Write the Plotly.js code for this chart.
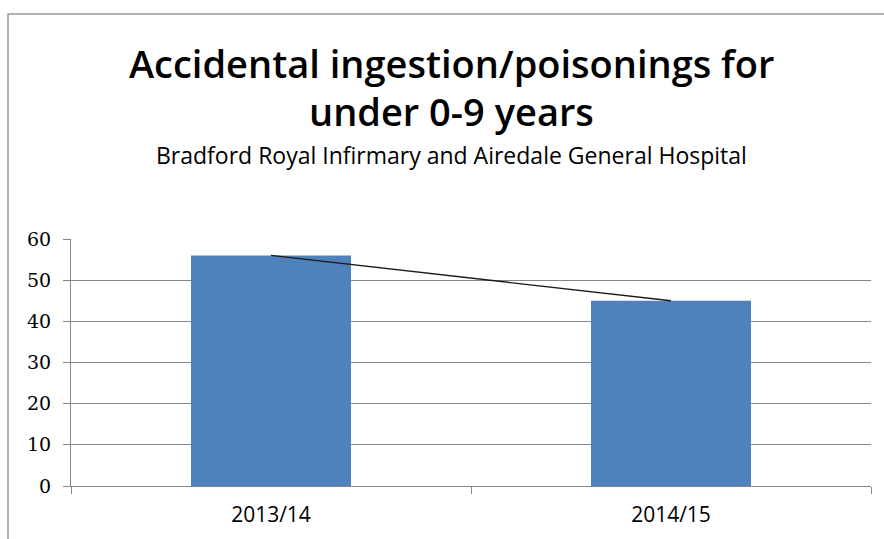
<!DOCTYPE html>
<html>
<head>
<meta charset="utf-8">
<script src="https://cdn.plot.ly/plotly-3.0.1.min.js"></script>
<style>
  html, body { margin: 0; padding: 0; background: #ffffff; }
  #chart { width: 884px; height: 539px; }
</style>
</head>
<body>
<div id="chart"></div>
<script>
const categories = ["2013/14", "2014/15"];
const cases = [56, 45];
const titleLine1 = "Accidental ingestion/poisonings for";
const titleLine2 = "under 0-9 years";
const subtitle = "Bradford Royal Infirmary and Airedale General Hospital";
const yTicks = [0, 10, 20, 30, 40, 50, 60];

const traces = [
  {
    type: "bar",
    x: categories,
    y: cases,
    width: 0.4,
    marker: { color: "#4F81BD" },
    hoverinfo: "x+y"
  },
  {
    type: "scatter",
    mode: "lines",
    x: categories,
    y: cases,
    line: { color: "#1a1a1a", width: 1.3 },
    hoverinfo: "skip"
  }
];

const layout = {
  width: 884,
  height: 539,
  margin: { l: 71, r: 13, t: 239, b: 53 },
  paper_bgcolor: "#ffffff",
  plot_bgcolor: "#ffffff",
  showlegend: false,
  xaxis: {
    type: "category",
    range: [-0.5, 1.5],
    showline: true,
    linecolor: "#868686",
    linewidth: 1,
    ticks: "outside",
    tickson: "boundaries",
    ticklen: 7,
    tickcolor: "#868686",
    showgrid: false,
    ticklabelstandoff: 10,
    tickfont: { family: "Open Sans", size: 21, color: "#000000" },
    fixedrange: true
  },
  yaxis: {
    range: [0, 60],
    tickvals: yTicks,
    showline: true,
    linecolor: "#868686",
    linewidth: 1,
    ticks: "outside",
    ticklen: 7,
    tickcolor: "#868686",
    showgrid: true,
    gridcolor: "#868686",
    gridwidth: 1,
    zeroline: false,
    ticklabelstandoff: 8,
    tickfont: { family: "DejaVu Serif", size: 19, color: "#000000" },
    fixedrange: true
  },
  annotations: [
    {
      text: titleLine1, xref: "paper", yref: "paper", x: 0.476, y: (486 - 63) / 247,
      xanchor: "center", yanchor: "middle", showarrow: false,
      font: { family: "Open Sans", size: 38, color: "#000000", weight: 600 }
    },
    {
      text: titleLine2, xref: "paper", yref: "paper", x: 0.476, y: (486 - 111) / 247,
      xanchor: "center", yanchor: "middle", showarrow: false,
      font: { family: "Open Sans", size: 38, color: "#000000", weight: 600 }
    },
    {
      text: subtitle, xref: "paper", yref: "paper", x: 0.476, y: (486 - 155) / 247,
      xanchor: "center", yanchor: "middle", showarrow: false,
      font: { family: "Open Sans", size: 23, color: "#000000" }
    }
  ],
  shapes: [
    {
      type: "rect", xref: "paper", yref: "paper",
      x0: (8 - 71) / 800, x1: (900 - 71) / 800,
      y0: (486 - 560) / 247, y1: (486 - 14) / 247,
      line: { color: "#9a9a9a", width: 1.5 },
      fillcolor: "rgba(0,0,0,0)",
      layer: "below"
    }
  ]
};

Plotly.newPlot("chart", traces, layout, { displayModeBar: false, staticPlot: true });
</script>
</body>
</html>
